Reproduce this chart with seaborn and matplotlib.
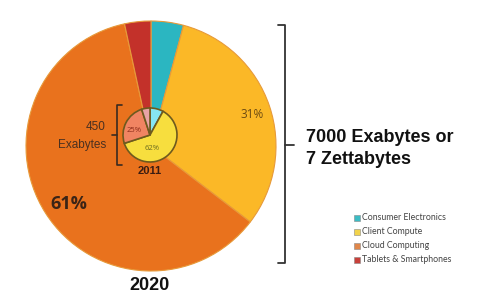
import matplotlib
matplotlib.use("Agg")
import matplotlib.pyplot as plt
import seaborn as sns

categories = ["Consumer Electronics", "Client Compute", "Cloud Computing", "Tablets & Smartphones"]
share_2020 = [4.2, 31.2, 61.2, 3.4]
share_2011 = [8, 62, 25, 5]
colors_2020 = ["#2bb6c1", "#fbb827", "#e9721d", "#c3312a"]
colors_2011 = ["#86e6f2", "#f7de3e", "#f08462", "#e9a3a6"]
legend_colors = ["#3bbcc4", "#f2d34a", "#e0874a", "#c8403a"]

sns.set_theme(style="white")
plt.rcParams['font.family'] = ['Liberation Sans', 'DejaVu Sans']

fig = plt.figure(figsize=(5, 3), dpi=100)
ax = fig.add_axes([0, 0, 1, 1])
ax.axis("off")

def Y(y):
    return 300 - y

# big pie 2020
ax.pie(share_2020, colors=colors_2020, startangle=90, counterclock=False,
       center=(151, Y(146)), radius=125,
       wedgeprops=dict(edgecolor="#e79a3a", linewidth=0.8))
# small pie 2011
ax.pie(share_2011, colors=colors_2011, startangle=90, counterclock=False,
       center=(150, Y(135)), radius=27,
       wedgeprops=dict(edgecolor="#6e5a1e", linewidth=1.2))
ax.set_xlim(0, 500)
ax.set_ylim(0, 300)
ax.set_aspect("equal")

# labels on pies
ax.text(252, Y(115), "31%", ha="center", va="center", fontsize=8.5,
        color="#6b4a12", family=["Open Sans", "DejaVu Sans"])
ax.text(69, Y(204), "61%", ha="center", va="center", fontsize=13,
        fontweight="bold", color="#3b2416", family=["Open Sans", "DejaVu Sans"])
ax.text(134, Y(131), "25%", ha="center", va="center", fontsize=5.5,
        color="#8a2a18", family=["Open Sans", "DejaVu Sans"])
ax.text(152, Y(148), "62%", ha="center", va="center", fontsize=5.5,
        color="#6a6a20", family=["Open Sans", "DejaVu Sans"])
ax.text(150, Y(171), "2011", ha="center", va="center", fontsize=8,
        fontweight="bold", color="#3a1c12")
ax.text(150, Y(286), "2020", ha="center", va="center", fontsize=13,
        fontweight="bold", color="#111111")
ax.text(106, Y(127), "450", ha="right", va="center", fontsize=8.5, color="#4a3020")
ax.text(106, Y(145), "Exabytes", ha="right", va="center", fontsize=8.5, color="#4a3020")

# small bracket
bc = "#3a2a20"
ax.plot([122, 117, 117, 122], [Y(105), Y(105), Y(165), Y(165)], color=bc, lw=1.2)
ax.plot([117, 112], [Y(135), Y(135)], color=bc, lw=1.2)

# big bracket
bc2 = "#333333"
ax.plot([278, 285, 285, 278], [Y(25), Y(25), Y(263), Y(263)], color=bc2, lw=1.3)
ax.plot([285, 294], [Y(145), Y(145)], color=bc2, lw=1.3)

ax.text(306, Y(138), "7000 Exabytes or", ha="left", va="center", fontsize=13,
        fontweight="bold", color="#111111")
ax.text(306, Y(160), "7 Zettabytes", ha="left", va="center", fontsize=13,
        fontweight="bold", color="#111111")

# legend
for i, (cat, c) in enumerate(zip(categories, legend_colors)):
    yy = Y(218 + i * 14)
    ax.scatter([357], [yy], marker="s", s=16, color=c, edgecolors="#888888", linewidths=0.4)
    ax.text(362, yy, cat, ha="left", va="center", fontsize=6.3, color="#444444",
            family=["Lato", "DejaVu Sans"])

fig.savefig("out.png", dpi=100)
